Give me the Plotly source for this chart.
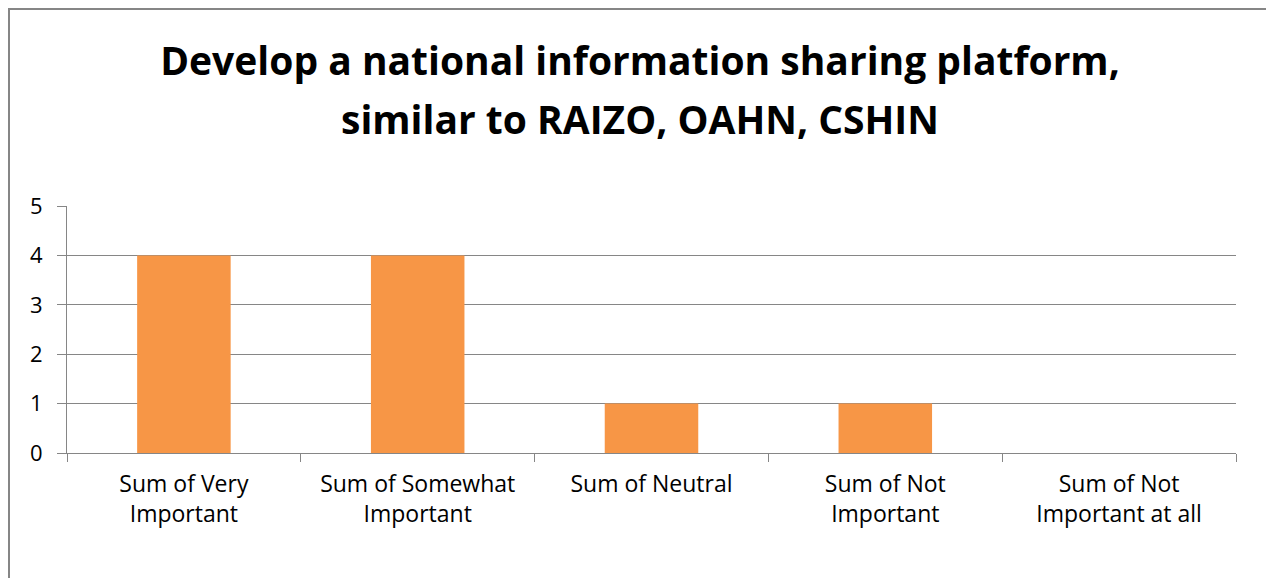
import plotly.graph_objects as go

categories = ["Sum of Very<br>Important", "Sum of Somewhat<br>Important", "Sum of Neutral",
              "Sum of Not<br>Important", "Sum of Not<br>Important at all"]
values = [4, 4, 1, 1, 0]
title_line1 = "Develop a national information sharing platform,"
title_line2 = "similar to RAIZO, OAHN, CSHIN"

# the page body adds an 8px offset; figure coords are screen coords minus 8
OFF = 8
W, H = 1274, 578
L, T = 67 - OFF, 206 - OFF
R = W - (1236 - OFF)
B = H - (453 - OFF)
pw, ph = W - L - R, H - T - B

grid = "#868686"
font = "Open Sans"
title_font = dict(family=font, size=39, color="black", weight="bold")

fig = go.Figure(go.Bar(x=categories, y=values, marker_color="#F79646",
                       marker_line_width=0))

fig.update_layout(
    width=W, height=H, autosize=False,
    margin=dict(l=L, r=R, t=T, b=B, pad=0),
    paper_bgcolor="white", plot_bgcolor="white",
    bargap=0.6, showlegend=False,
    title=dict(text=title_line1, x=(640 - OFF) / W, xanchor="center", xref="container",
               y=1 - (61 - OFF) / H, yanchor="middle", yref="container",
               font=title_font),
    font=dict(family=font, color="black"),
)
fig.add_annotation(text=title_line2, xref="paper", yref="paper",
                   x=(640 - OFF - L) / pw, y=(H - B - (119 - OFF)) / ph,
                   xanchor="center", yanchor="middle", showarrow=False, font=title_font)

fig.update_yaxes(range=[0, 5], dtick=1, showgrid=True, gridcolor=grid, gridwidth=1,
                 showline=True, linecolor=grid, linewidth=1,
                 ticks="outside", ticklen=9, tickcolor=grid,
                 tickfont=dict(family=font, size=22, color="black"),
                 ticklabelstandoff=10,
                 zeroline=False, fixedrange=True)
fig.update_xaxes(showline=True, linecolor=grid, linewidth=1,
                 ticks="outside", ticklen=8, tickcolor=grid, tickson="boundaries",
                 tickfont=dict(family=font, size=23, color="black"),
                 ticklabelstandoff=10,
                 showgrid=False, fixedrange=True)

# outer chart frame (extends past right/bottom edges as in the reference)
x0 = (1 - L) / pw
y1 = (H - B - 1) / ph
fig.add_shape(type="rect", xref="paper", yref="paper", x0=x0, x1=x0 + 2, y0=y1 - 3, y1=y1,
              line=dict(color=grid, width=2), fillcolor="rgba(0,0,0,0)", layer="below")

fig.write_html("out.html")
